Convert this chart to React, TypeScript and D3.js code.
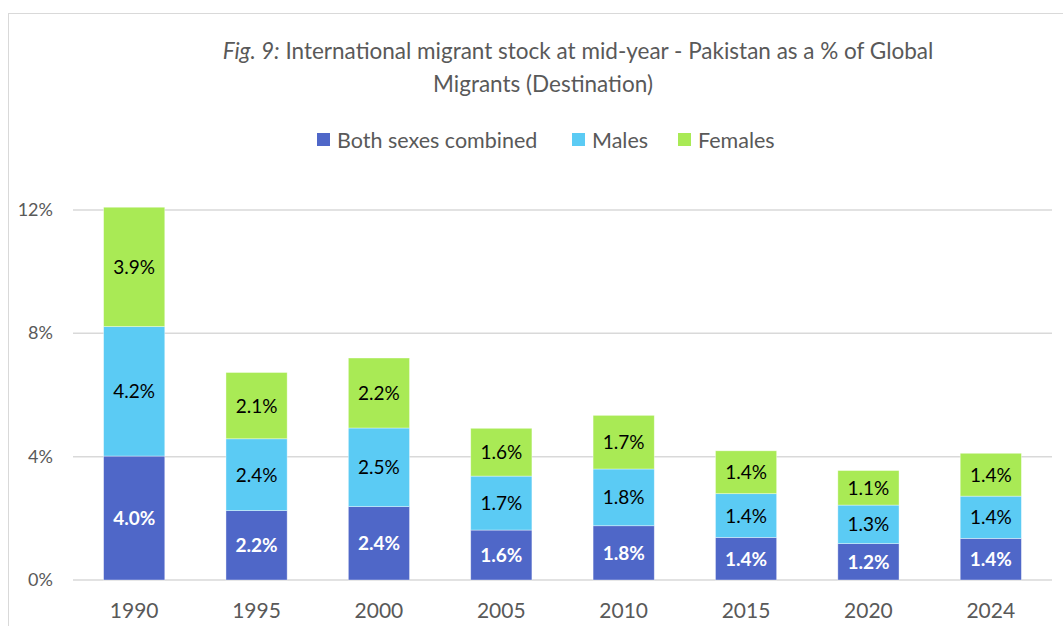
import React from "react";
import * as d3 from "d3";

const years = ["1990", "1995", "2000", "2005", "2010", "2015", "2020", "2024"];
const bothSexes = [4.02, 2.25, 2.38, 1.62, 1.76, 1.38, 1.18, 1.35];
const males = [4.2, 2.33, 2.55, 1.75, 1.84, 1.42, 1.25, 1.37];
const females = [3.87, 2.15, 2.27, 1.55, 1.74, 1.39, 1.12, 1.39];
const bothLabels = ["4.0%", "2.2%", "2.4%", "1.6%", "1.8%", "1.4%", "1.2%", "1.4%"];
const maleLabels = ["4.2%", "2.4%", "2.5%", "1.7%", "1.8%", "1.4%", "1.3%", "1.4%"];
const femaleLabels = ["3.9%", "2.1%", "2.2%", "1.6%", "1.7%", "1.4%", "1.1%", "1.4%"];
const yTicks = [0, 4, 8, 12];

const seriesNames = ["Both sexes combined", "Males", "Females"];
const seriesColors = ["#4f67c8", "#5bcbf4", "#a9ea55"];

const W = 1063;
const H = 626;
const font = "Lato, 'Open Sans', sans-serif";
const grey = "#595959";

export default function App() {
  const x = d3.scaleBand().domain(years).range([73, 1052]).paddingInner(0.5).paddingOuter(0.25);
  const y = d3.scaleLinear().domain([0, 12]).range([580, 210]);

  const table = years.map((yr, i) => ({
    year: yr,
    both: bothSexes[i],
    males: males[i],
    females: females[i],
  }));
  const stacked = d3.stack<any>().keys(["both", "males", "females"])(table);
  const labels = [bothLabels, maleLabels, femaleLabels];

  // legend swatch positions
  const legendX = [317, 572, 678];

  return (
    <svg
      width={W}
      height={H}
      style={{ position: "absolute", left: 0, top: 0, background: "#fff" }}
      fontFamily={font}
    >
      <rect x={8.5} y={13.5} width={W + 10} height={H + 10} fill="#fff" stroke="#d9d9d9" />

      <text x={578} y={59} textAnchor="middle" fontSize={22.5} fill={grey}>
        <tspan fontStyle="italic">Fig. 9:</tspan> International migrant stock at mid-year - Pakistan as a % of Global
      </text>
      <text x={543} y={92} textAnchor="middle" fontSize={22.5} fill={grey}>
        Migrants (Destination)
      </text>

      {seriesNames.map((name, i) => (
        <g key={name} transform={`translate(${legendX[i]},0)`}>
          <rect x={0} y={133} width={13} height={13} fill={seriesColors[i]} />
          <text x={20} y={148} fontSize={21.5} fill={grey}>
            {name}
          </text>
        </g>
      ))}

      {yTicks.map((t) => (
        <g key={t}>
          <line x1={73} x2={1052} y1={y(t)} y2={y(t)} stroke="#d9d9d9" strokeWidth={1.5} />
          <text x={53} y={y(t) + 6} textAnchor="end" fontSize={18} fill={grey}>
            {t}%
          </text>
        </g>
      ))}

      {stacked.map((layer, si) => (
        <g key={layer.key}>
          {layer.map((d, i) => {
            const x0 = x(years[i])!;
            const top = y(d[1]);
            const bottom = y(d[0]);
            const cy = (top + bottom) / 2;
            return (
              <g key={years[i]}>
                <rect
                  x={x0}
                  y={top}
                  width={x.bandwidth()}
                  height={bottom - top}
                  fill={seriesColors[si]}
                  stroke="#ffffff"
                  strokeOpacity={0.5}
                  strokeWidth={0.75}
                />
                <text
                  x={x0 + x.bandwidth() / 2}
                  y={cy + 7}
                  textAnchor="middle"
                  fontSize={19}
                  fontWeight={si === 0 ? "bold" : "normal"}
                  fill={si === 0 ? "#ffffff" : "#000000"}
                >
                  {labels[si][i]}
                </text>
              </g>
            );
          })}
        </g>
      ))}

      {years.map((yr) => (
        <text
          key={yr}
          x={x(yr)! + x.bandwidth() / 2}
          y={618}
          textAnchor="middle"
          fontSize={21}
          fill={grey}
        >
          {yr}
        </text>
      ))}
    </svg>
  );
}
